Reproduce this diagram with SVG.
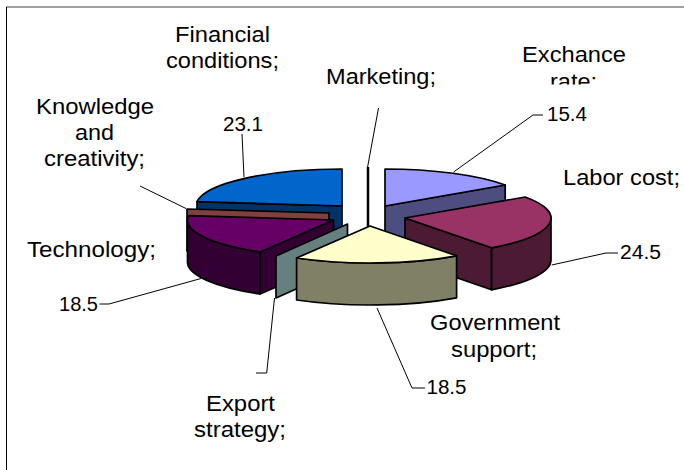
<svg xmlns="http://www.w3.org/2000/svg" width="684" height="470" viewBox="0 0 684 470">
<defs>
<style>
.e{stroke:#000;stroke-width:1.7;stroke-linejoin:round}
.lbl{font-family:"Liberation Sans",Arial,sans-serif;font-size:22px;fill:#000}
.num{font-family:"Liberation Sans",Arial,sans-serif;font-size:19.5px;fill:#000}
.ld{fill:none;stroke:#000;stroke-width:1}
</style>
<clipPath id="rateclip"><rect x="500" y="60" width="150" height="24.5"/></clipPath>
</defs>
<rect width="684" height="470" fill="#fff"/>
<line x1="6" y1="7" x2="684" y2="7" stroke="#808080" stroke-width="1.5"/>
<line x1="6.5" y1="7" x2="6.5" y2="470" stroke="#000" stroke-width="1"/>

<g id="financial">
<path class="e" fill="#003366" d="M197,201.6 L342,206 L342,248 L197,243.6 Z"/>
<path class="e" fill="#0066CC" d="M342,206 L342,169 A146,37 0 0 0 197,201.6 Z"/>
</g>
<g id="marketing">
<line x1="368" y1="167" x2="368" y2="246" stroke="#000" stroke-width="2.5"/>
</g>
<g id="exchange">
<path class="e" fill="#4D4D80" d="M385,206 L505.2,185 L505.2,227 L385,248 Z"/>
<path class="e" fill="#9999FF" d="M385,206 L385,169 A146,37 0 0 1 505.2,185 Z"/>
</g>
<g id="knowledge">
<path class="e" fill="#804040" d="M329,213 L187,209 L187,251 L329,255 Z"/>
</g>
<g id="technology">
<path class="e" fill="#330033" d="M333.5,220 L260.1,252 L260.1,294 L333.5,262 Z"/>
<path class="e" fill="#330033" d="M260.1,252 A146,37 0 0 1 187.5,220 L187.5,262 A146,37 0 0 0 260.1,294 Z"/>
<path class="e" fill="#660066" d="M333.5,220 L260.1,252 A146,37 0 0 1 188.5,215.6 Z"/>
</g>
<g id="export">
<path class="e" fill="#668080" d="M347.5,224 L276,256 L276,298 L347.5,266 Z"/>
</g>
<g id="labor">
<path class="e" fill="#4D1A33" d="M405,218 L491.6,247.8 L491.6,289.8 L405,260 Z"/>
<path class="e" fill="#4D1A33" d="M551,218 A146,37 0 0 1 491.6,247.8 L491.6,289.8 A146,37 0 0 0 551,260 Z"/>
<path class="e" fill="#993366" d="M405,218 L525.2,197 A146,37 0 0 1 491.6,247.8 Z"/>
</g>
<g id="government">
<path class="e" fill="#808066" d="M456.6,255.8 A146,37 0 0 1 296.6,258 L296.6,300 A146,37 0 0 0 456.6,297.8 Z"/>
<path class="e" fill="#FFFFCC" d="M370,226 L456.6,255.8 A146,37 0 0 1 296.6,258 Z"/>
</g>

<g id="connectors">
<path class="ld" d="M242,134 L244,177"/>
<path class="ld" d="M543,115 L533,115 L453.6,172"/>
<path class="ld" d="M618,253 L606,253 L551.7,265"/>
<path class="ld" d="M425,388 L412,388 L377,308"/>
<path class="ld" d="M256,373 L266.7,373 L274.5,298"/>
<path class="ld" d="M99.4,304 L109,304 L201,278.5"/>
<path class="ld" d="M140,186 L186,208.5"/>
<path class="ld" d="M378.5,108 L367.6,167"/>
</g>

<g id="labels">
<text class="lbl" x="175" y="42" textLength="95" lengthAdjust="spacingAndGlyphs">Financial</text>
<text class="lbl" x="166" y="68" textLength="113" lengthAdjust="spacingAndGlyphs">conditions;</text>
<text class="lbl" x="326" y="84" textLength="110" lengthAdjust="spacingAndGlyphs">Marketing;</text>
<text class="lbl" x="522" y="62" textLength="104" lengthAdjust="spacingAndGlyphs">Exchance</text>
<text class="lbl" x="550" y="89" textLength="47" lengthAdjust="spacingAndGlyphs" clip-path="url(#rateclip)">rate;</text>
<text class="lbl" x="563" y="185" textLength="117" lengthAdjust="spacingAndGlyphs">Labor cost;</text>
<text class="lbl" x="430" y="330" textLength="130" lengthAdjust="spacingAndGlyphs">Government</text>
<text class="lbl" x="451" y="357" textLength="86" lengthAdjust="spacingAndGlyphs">support;</text>
<text class="lbl" x="206" y="411" textLength="69" lengthAdjust="spacingAndGlyphs">Export</text>
<text class="lbl" x="194" y="437" textLength="92" lengthAdjust="spacingAndGlyphs">strategy;</text>
<text class="lbl" x="27" y="257" textLength="129" lengthAdjust="spacingAndGlyphs">Technology;</text>
<text class="lbl" x="36" y="114" textLength="118" lengthAdjust="spacingAndGlyphs">Knowledge</text>
<text class="lbl" x="75" y="140" textLength="39" lengthAdjust="spacingAndGlyphs">and</text>
<text class="lbl" x="44" y="166" textLength="101" lengthAdjust="spacingAndGlyphs">creativity;</text>
<text class="num" x="223" y="131" textLength="40" lengthAdjust="spacingAndGlyphs">23.1</text>
<text class="num" x="547" y="121" textLength="40" lengthAdjust="spacingAndGlyphs">15.4</text>
<text class="num" x="620" y="259" textLength="41" lengthAdjust="spacingAndGlyphs">24.5</text>
<text class="num" x="426.5" y="394" textLength="40" lengthAdjust="spacingAndGlyphs">18.5</text>
<text class="num" x="59" y="311" textLength="39" lengthAdjust="spacingAndGlyphs">18.5</text>
</g>
</svg>
